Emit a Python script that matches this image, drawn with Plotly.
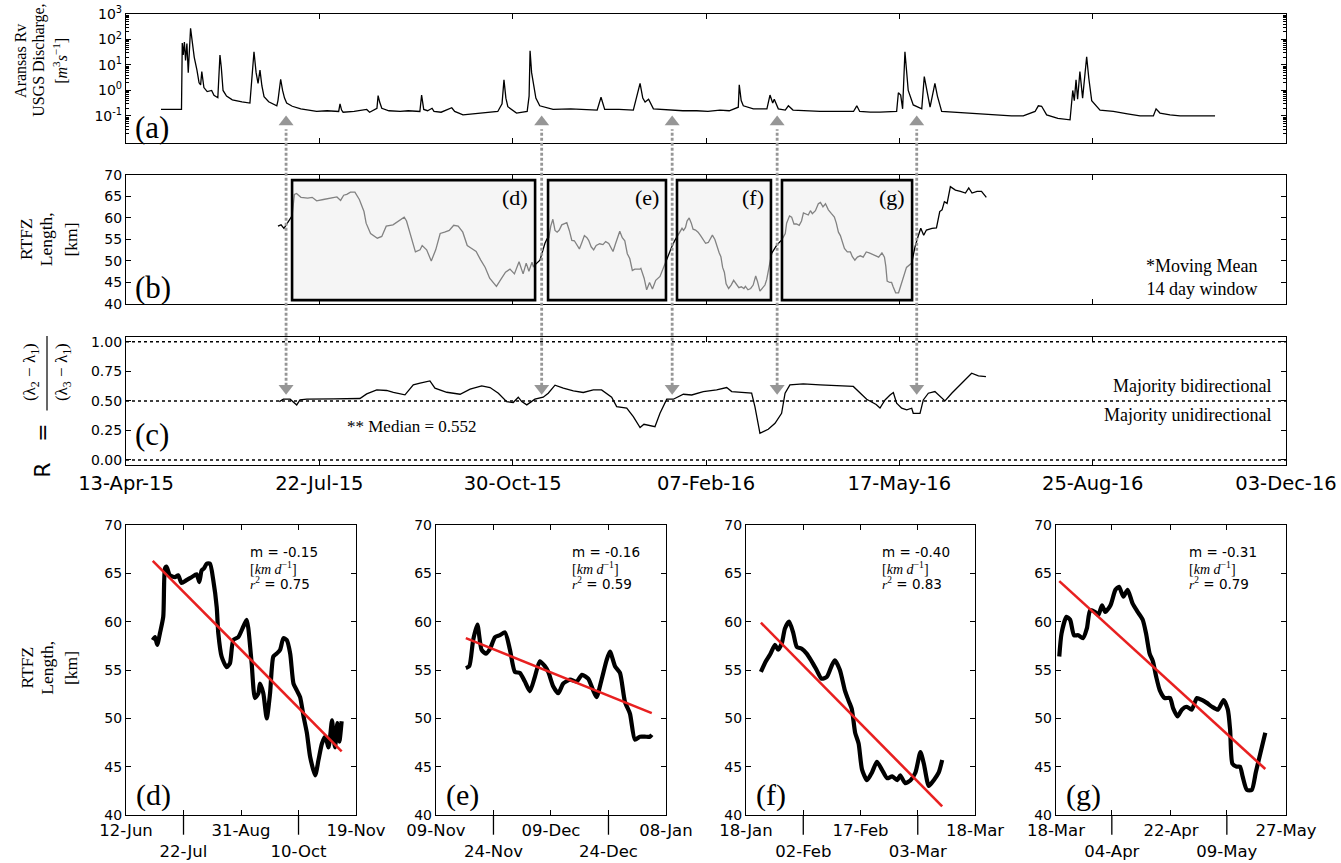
import pandas as pd
import plotly.graph_objects as go

START = pd.Timestamp("2015-04-13")

# ---------------- data ----------------
# (a) USGS discharge, day offset from 13-Apr-15 and m3/s
q_day = [18.1, 22, 25, 28.7, 29.1, 29.6, 30.2, 30.8, 31.5, 32.2, 33.4, 34.2, 35.3, 36.7, 37.8, 38.6,
         39.2, 40.3, 42.0, 44.3, 45.5, 47.5, 48.6, 49.3, 50.2, 52, 55, 60, 64.1, 66.2, 67.3, 68.3,
         69.3, 70.3, 71.4, 73.8, 78.0, 78.6, 79.2, 80.0, 81.0, 82.0, 83.1, 86, 90.4, 95, 98.6, 104,
         110.0, 110.7, 111.5, 112.3, 118, 124.5, 126, 129.8, 130.4, 131.2, 132.3, 136, 141.8, 146,
         152.0, 152.9, 154.0, 156, 158.3, 159.3, 163, 168.5, 170, 174.3, 180, 186.5, 192.3, 194.5,
         195.5, 196.5, 197.5, 202, 207.5, 208.5, 209.0, 209.8, 210.7, 212, 214, 220.9, 230, 238.6,
         243.7, 245.7, 247.6, 255, 262.4, 265.9, 267.3, 268.5, 270.3, 272.8, 281.5, 288, 295.2, 301,
         307.2, 312, 316.7, 317.2, 318.2, 319.3, 324.5, 331.5, 333.1, 334.5, 335.3, 337.4, 341, 342.6,
         345, 352, 359, 368, 376.3, 378.0, 379.5, 385, 390, 398.6, 399.5, 400.7, 401.7, 402.9, 403.7,
         404.6, 407.2, 411.6, 412.9, 414.2, 415.9, 418.4, 419.7, 421.9, 428, 433.1, 442, 450.4, 458,
         464.1, 470.2, 471.9, 473.6, 476.2, 482, 488.3, 489.7, 490.5, 491.4, 492.2, 493.4, 494.8,
         496.9, 498.0, 499.5, 503.8, 510.7, 518, 524.5, 531.4, 532.8, 534.8, 540, 545.2, 555, 563.3]
q_val = [0.18, 0.175, 0.18, 0.18, 72, 25, 80, 15, 70, 5, 275, 90, 20, 6.3, 2.0, 1.65,
         5.5, 1.3, 0.9, 1.0, 0.65, 0.52, 24.5, 8, 1.0, 0.6, 0.43, 0.36, 0.32, 33, 5, 1.9,
         6.3, 1.5, 0.57, 0.36, 0.25, 0.4, 0.8, 2.75, 1.0, 0.5, 0.32, 0.24, 0.19, 0.17, 0.15, 0.16,
         0.15, 0.3, 0.17, 0.14, 0.15, 0.18, 0.14, 0.2, 0.63, 0.35, 0.2, 0.16, 0.15, 0.16,
         0.15, 0.66, 0.18, 0.16, 0.2, 0.15, 0.14, 0.21, 0.15, 0.11, 0.12, 0.13, 0.15, 0.3,
         2.6, 0.5, 0.23, 0.13, 0.15, 0.6, 36, 5, 1.9, 0.5, 0.25, 0.18, 0.19, 0.18,
         0.17, 0.54, 0.18, 0.18, 0.17, 1.9, 0.5, 0.35, 0.45, 0.19, 0.17, 0.16, 0.16, 0.15,
         0.17, 0.16, 0.22, 1.66, 0.4, 0.25, 0.19, 0.19, 0.66, 0.32, 0.45, 0.19, 0.17, 0.25,
         0.17, 0.16, 0.15, 0.15, 0.15, 0.25, 0.15, 0.14, 0.14, 0.15, 0.81, 0.66, 0.19, 33, 5,
         1.0, 0.27, 0.19, 3.5, 0.9, 0.22, 1.9, 0.6, 0.15, 0.14, 0.13, 0.12, 0.11, 0.1,
         0.1, 0.15, 0.25, 0.24, 0.11, 0.08, 0.07, 1.0, 0.4, 2.6, 0.45, 5.5, 0.5,
         21, 3, 0.4, 0.17, 0.15, 0.12, 0.1, 0.1, 0.19, 0.13, 0.11, 0.1, 0.1, 0.1]

# (b) RTFZ length, 14-day moving mean [km]
L_day = [78.6, 80.2, 81.7, 83.6, 85.9, 87.1, 88.2, 90.5, 94, 96.3, 98.6, 102.1, 105.6, 109.1, 111,
         112.6, 114.2, 116.1, 118.4, 120.7, 123.1, 124.2, 126.5, 130, 132.3, 134.6, 138.1, 141.6,
         143.9, 145.1, 147.4, 149.7, 152.1, 153.2, 155.5, 157.9, 160.2, 162.5, 164.8, 167.2, 169.5,
         171.8, 174.2, 176.5, 178.8, 181.1, 183.5, 185.8, 188.1, 191.6, 193.9, 196.3, 198.6, 200.9,
         203.3, 204.4, 205.4, 207, 208.4, 210, 210.7, 212.5, 214.1, 216.7,
         217.8, 218.7, 219.7, 220.8, 221.9, 223, 224.1, 225.4, 226.7, 228, 229.3, 230.6, 231.9,
         233.2, 234.5, 235.8, 237.1, 238.4, 239.3, 240.6, 241.9, 243.2, 245, 246.7, 248.1, 249.7,
         251, 251.9, 253.2, 254.5, 255.4, 256.7, 258, 259.3, 260.6, 261.9, 263.2, 264.5, 265.8, 266.3,
         268, 269.3, 270.8, 272.3, 274, 276.2, 278.8, 282.3,
         283.9, 285.2, 286.3, 287.6, 288.4, 289.4, 290.2, 291.3, 292.4, 293.3, 294.6, 295.9, 297.2,
         298.5, 299.8, 301.2, 302.5, 303.3, 304.6, 305.9, 306.8, 307.7, 308.6, 309.5, 310.4, 311.7,
         313, 314.3, 315.6, 317, 318.3, 319.6, 320.4, 321.7, 323.1, 324.4, 325.7, 326.6, 327.9,
         329.2, 330.5, 331.4, 332.7, 334, 336.6, 339.2,
         341.0, 341.7, 343.2, 344.3, 345.5, 346.8, 348.2, 349.4, 350.4, 351.9, 352.9, 354, 355,
         356.6, 358.1, 359.2, 360.5, 361.8, 363.3, 364.9, 366.4, 367.4, 368.5, 369.5, 370.5, 371.6,
         373.1, 374.7, 375.7, 377, 378.3, 379.8, 381.3, 382.9, 384.4, 385.9, 387.5, 389.3, 391,
         392.3, 393, 393.7, 395, 396, 396.8, 398.1, 399.6, 400.8, 402.2, 403.7,
         406.4, 408.1, 409.9, 411.1, 412.6, 414, 416.9, 419.2, 420.9, 422.1, 423.3, 424.7, 426.4,
         429, 431.6, 434.2, 435.9, 437.6, 440.2, 442.5, 445]
L_val = [58.1, 58.4, 57.6, 58.8, 60.5, 65.5, 65.7, 64.8, 64.6, 64.8, 64.0, 64.3, 64.6, 64.9, 64.1,
         65.3, 65.5, 66.0, 66.0, 64.3, 61.5, 58.8, 56.4, 55.3, 55.7, 58.1, 58.4, 59.5,
         60.2, 59.3, 55.7, 52.1, 52.6, 53.6, 52.6, 50.0, 52.6, 56.4, 56.7, 57.1, 58.3,
         58.1, 56.7, 53.6, 52.9, 52.2, 50.2, 48.5, 46.0, 44.1, 45.7, 47.4, 48.1, 47.0,
         49.8, 48.0, 47.0, 49.5, 47.6, 49.7, 48.7, 49.5, 50.2, 54.1,
         55.2, 55.4, 58.1, 59.7, 57.1, 56.7, 57.2, 58.4, 58.6, 58.9, 57.1, 54.8, 54.7,
         53.8, 52.8, 54.3, 55.9, 55.4, 54.8, 53.3, 52.6, 53.6, 54.0, 53.8, 54.5, 54.1,
         52.9, 52.2, 54.0, 56.0, 56.9, 55.4, 54.7, 51.7, 50.5, 47.8, 48.1, 48.1, 48.1, 48.3,
         46.0, 43.3, 45.0, 43.5, 45.5, 46.4, 49.5, 53.3,
         54.8, 55.9, 56.6, 57.6, 57.1, 57.8, 59.3, 60.0, 58.8, 57.4, 57.2, 56.7, 55.9,
         55.0, 54.1, 54.3, 55.5, 56.0, 55.0, 52.9, 51.9, 51.0, 48.5, 47.4, 44.7, 43.6,
         44.4, 45.5, 44.7, 43.8, 44.0, 43.6, 44.1, 43.3, 43.6, 44.4, 46.5, 45.3, 43.0,
         43.6, 44.4, 45.7, 48.5, 51.8, 53.7, 54.9,
         56.4, 58.8, 60.5, 60.2, 58.6, 58.6, 58.3, 59.3, 61.2, 61.0, 60.7, 61.7, 61.0,
         61.7, 63.3, 63.6, 62.6, 63.3, 61.9, 61.0, 60.2, 58.8, 56.7, 55.9, 54.3, 52.9,
         52.1, 52.1, 51.0, 50.2, 50.9, 51.2, 50.9, 52.1, 51.9, 51.6, 51.2, 50.9, 51.9,
         50.9, 48.8, 45.3, 45.0, 45.0, 44.0, 42.6, 42.6, 44.4, 46.4, 48.5,
         49.5, 53.3, 56.0, 57.6, 56.0, 57.2, 57.6, 57.7, 61.5, 61.9, 63.8, 63.4, 67.3,
         66.5, 66.2, 65.8, 67.0, 65.8, 66.2, 66.2, 64.8]

# (c) eigenvalue ratio R
R_day = [79.3, 81.4, 84.9, 86.5, 88.3, 90, 93.5, 107.2, 121, 124.5, 129.7, 134.8, 138.3, 144.3,
         148.6, 152.1, 157.2, 159.8, 165.9, 172.8, 178, 184, 188.3, 192.6, 196.9, 200.3, 202.9,
         204.7, 207.3, 211.5, 215.8, 218.4, 221.9, 226.2, 231.4, 236.5, 241.7, 246, 251.2, 253.8,
         259, 262.4, 265.9, 267.9, 273.6, 276.2, 279.7, 283.1, 288.3, 292.6, 298.6, 305.5, 310.7,
         313.3, 317.6, 323.6, 325.3, 327.9, 332.2, 335.7, 339.1, 340.9, 343.4, 350.3, 359, 367.6,
         376.2, 383.1, 388, 390, 392.6, 395.2, 396.9, 398.6, 401.2, 403.8, 406.4, 407.2, 410.7,
         412.4, 415, 418.4, 421.9, 423.6, 427.1, 432.2, 437.4, 440.9, 444.8]
R_val = [0.494, 0.514, 0.514, 0.494, 0.466, 0.508, 0.514, 0.517, 0.52, 0.559, 0.593, 0.588, 0.571,
         0.551, 0.636, 0.65, 0.669, 0.607, 0.573, 0.556, 0.599, 0.627, 0.613, 0.565, 0.494, 0.486,
         0.531, 0.494, 0.466, 0.514, 0.531, 0.565, 0.633, 0.607, 0.584, 0.571, 0.593, 0.593, 0.531,
         0.452, 0.438, 0.367, 0.274, 0.302, 0.282, 0.395, 0.514, 0.514, 0.556, 0.55, 0.579, 0.593,
         0.613, 0.579, 0.571, 0.565, 0.452, 0.226, 0.26, 0.31, 0.395, 0.565, 0.636, 0.644, 0.636,
         0.627, 0.622, 0.514, 0.47, 0.44, 0.508, 0.55, 0.571, 0.48, 0.438, 0.424, 0.438, 0.395,
         0.395, 0.508, 0.565, 0.579, 0.522, 0.5, 0.565, 0.65, 0.734, 0.712, 0.706]
R_median = 0.552
R_levels = [0.0, 0.5, 1.0]

top_tick_labels = ["13-Apr-15", "22-Jul-15", "30-Oct-15", "07-Feb-16", "17-May-16", "25-Aug-16", "03-Dec-16"]
q_tick_vals = [0.1, 1, 10, 100, 1000]
q_tick_text = ["10<sup>-1</sup>", "10<sup>0</sup>", "10<sup>1</sup>", "10<sup>2</sup>", "10<sup>3</sup>"]

box_names = ["(d)", "(e)", "(f)", "(g)"]
box_start_day = [85.9, 218.3, 285.0, 339.3]
box_end_day = [211.6, 279.3, 333.6, 406.6]
arrow_day = [82.8, 215.0, 282.5, 336.8, 409.0]

sub_windows = [(78.0, 210.5), (217.5, 266.5), (283.5, 331.5), (340.5, 404.0)]
sub_tick_labels = [["12-Jun-15", "22-Jul-15", "31-Aug-15", "10-Oct-15", "19-Nov-15"],
                   ["09-Nov-15", "24-Nov-15", "09-Dec-15", "24-Dec-15", "08-Jan-16"],
                   ["18-Jan-16", "02-Feb-16", "17-Feb-16", "03-Mar-16", "18-Mar-16"],
                   ["18-Mar-16", "04-Apr-16", "22-Apr-16", "09-May-16", "27-May-16"]]
fit_slope = [-0.15, -0.16, -0.40, -0.31]
fit_start_val = [66.3, 58.3, 59.9, 64.2]
fit_r2 = [0.75, 0.59, 0.83, 0.79]

# ---------------- helpers ----------------
SERIF = "Liberation Serif"
SANS = "DejaVu Sans"


def to_dates(days):
    return [START + pd.Timedelta(days=float(d)) for d in days]


def parse(lbl):
    return pd.to_datetime(lbl, format="%d-%b-%y")


fig = go.Figure()

fig.add_trace(go.Scatter(x=to_dates(q_day), y=q_val, mode="lines",
                         line=dict(color="black", width=1.3), xaxis="x", yaxis="y"))
fig.add_trace(go.Scatter(x=to_dates(L_day), y=L_val, mode="lines",
                         line=dict(color="black", width=1.3), xaxis="x2", yaxis="y2"))
fig.add_trace(go.Scatter(x=to_dates(R_day), y=R_val, mode="lines",
                         line=dict(color="black", width=1.3), xaxis="x3", yaxis="y3"))

ARROW_GRAY = "rgb(150,150,150)"
fig.add_trace(go.Scatter(x=to_dates(arrow_day), y=[0.058] * len(arrow_day), mode="markers",
                         marker=dict(symbol="triangle-up", size=13, color=ARROW_GRAY),
                         xaxis="x", yaxis="y", cliponaxis=False))
fig.add_trace(go.Scatter(x=to_dates(arrow_day), y=[0.606] * len(arrow_day), mode="markers",
                         marker=dict(symbol="triangle-down", size=13, color=ARROW_GRAY),
                         xaxis="x3", yaxis="y3", cliponaxis=False))

for i, (w0, w1) in enumerate(sub_windows):
    n = i + 4
    sel = [(d, v) for d, v in zip(L_day, L_val) if w0 <= d <= w1]
    dd = [d for d, _ in sel]
    vv = [v for _, v in sel]
    fig.add_trace(go.Scatter(x=to_dates(dd), y=vv, mode="lines",
                             line=dict(color="black", width=4.2, shape="spline", smoothing=0.6),
                             xaxis=f"x{n}", yaxis=f"y{n}"))
    fx = [dd[0], dd[-1]]
    fy = [fit_start_val[i], fit_start_val[i] + fit_slope[i] * (dd[-1] - dd[0])]
    fig.add_trace(go.Scatter(x=to_dates(fx), y=fy, mode="lines",
                             line=dict(color="rgb(232,32,32)", width=2.6), xaxis=f"x{n}", yaxis=f"y{n}"))

# ---------------- axes ----------------
axis_common = dict(showline=True, mirror="ticks", linecolor="black", linewidth=1.3,
                   ticks="inside", ticklen=5, tickwidth=1.1, tickcolor="black", automargin=False,
                   showgrid=False, zeroline=False, tickfont=dict(family=SANS, size=14, color="black"))

top_vals = [parse(s) for s in top_tick_labels]
top_range = [top_vals[0], top_vals[-1]]

minor_q = [m * 10.0 ** k for k in range(-2, 3) for m in range(2, 10)]

layout = dict(
    width=1341, height=863, margin=dict(l=126, r=55, t=14, b=48),
    plot_bgcolor="white", paper_bgcolor="white", showlegend=False,
    font=dict(family=SANS, size=14, color="black"),
    xaxis=dict(axis_common, domain=[0, 1], anchor="y", type="date", range=top_range,
               tickmode="array", tickvals=top_vals, showticklabels=False),
    xaxis2=dict(axis_common, domain=[0, 1], anchor="y2", type="date", range=top_range,
                tickmode="array", tickvals=top_vals, showticklabels=False),
    xaxis3=dict(axis_common, domain=[0, 1], anchor="y3", type="date", range=top_range,
                tickmode="array", tickvals=top_vals, ticktext=top_tick_labels, tickangle=0,
                tickfont=dict(family=SANS, size=19.5, color="black")),
    yaxis=dict(axis_common, domain=[0.839, 1.0], anchor="x", type="log", range=[-2.06, 3.0],
               tickmode="array", tickvals=q_tick_vals, ticktext=q_tick_text,
               minor=dict(ticks="inside", ticklen=2.5, tickcolor="black", tickmode="array",
                          tickvals=minor_q)),
    yaxis2=dict(axis_common, domain=[0.638, 0.799], anchor="x2", range=[40, 70],
                tickmode="array", tickvals=[40, 45, 50, 55, 60, 65, 70]),
    yaxis3=dict(axis_common, domain=[0.437, 0.597], anchor="x3", range=[-0.042, 1.042],
                tickmode="array", tickvals=[0, 0.25, 0.5, 0.75, 1.0],
                ticktext=["0.00", "0.25", "0.50", "0.75", "1.00"]),
)

sub_domains = [[0.0, 0.1983], [0.2672, 0.4655], [0.5345, 0.7319], [0.8017, 1.0]]
shapes = []
for i, labels in enumerate(sub_tick_labels):
    n = i + 4
    tv = [parse(s) for s in labels]
    tt = [s[:6] if j % 2 == 0 else "<br>" + s[:6] for j, s in enumerate(labels)]
    layout[f"xaxis{n}"] = dict(axis_common, domain=sub_domains[i], anchor=f"y{n}", type="date",
                               range=[tv[0], tv[-1]], tickmode="array", tickvals=tv, ticktext=tt,
                               tickangle=0, tickfont=dict(family=SANS, size=16.5, color="black"))
    layout[f"yaxis{n}"] = dict(axis_common, domain=[0.0, 0.362], anchor=f"x{n}", range=[40, 70],
                               tickmode="array", tickvals=[40, 45, 50, 55, 60, 65, 70])
    for j in (1, 3):
        shapes.append(dict(type="line", xref=f"x{n}", yref=f"y{n} domain", x0=tv[j], x1=tv[j],
                           y0=-0.068, y1=0.0, line=dict(color="black", width=1.3)))

fig.update_layout(**layout)

# ---------------- shapes ----------------
for lv in R_levels:
    shapes.append(dict(type="line", xref="x3 domain", yref="y3", x0=0, x1=1, y0=lv, y1=lv,
                       line=dict(color="black", width=1.5, dash="dot")))
for b0, b1 in zip(box_start_day, box_end_day):
    shapes.append(dict(type="rect", xref="x2", yref="y2", x0=START + pd.Timedelta(days=b0),
                       x1=START + pd.Timedelta(days=b1), y0=40.9, y1=68.8, layer="above",
                       line=dict(color="black", width=2.6), fillcolor="rgba(236,236,236,0.55)"))
for d in arrow_day:
    t = START + pd.Timedelta(days=d)
    shapes.append(dict(type="line", xref="x", yref="paper", x0=t, x1=t, y0=0.536, y1=0.856,
                       layer="above", line=dict(color=ARROW_GRAY, width=2.8, dash="3px,2px")))
# fraction bar of R label
shapes.append(dict(type="line", xref="paper", yref="paper", x0=-0.0681, x1=-0.0681, y0=0.505, y1=0.598,
                   line=dict(color="black", width=1.2)))
fig.update_layout(shapes=shapes)

# ---------------- annotations ----------------
ann = []


def A(**kw):
    base = dict(showarrow=False)
    base.update(kw)
    ann.append(base)


# y titles
for txt, xp in [("Aransas Rv", -0.0905), ("USGS Discharge,", -0.075),
                ("[<i>m</i><sup>3</sup><i>s</i><sup>−1</sup>]", -0.0569)]:
    A(text=txt, xref="paper", yref="paper", x=xp, y=0.9415, xanchor="center", yanchor="middle",
      textangle=-90, font=dict(family=SERIF, size=16))
for txt, xp in [("RTFZ", -0.0857), ("Length,", -0.0683), ("[km]", -0.0474)]:
    A(text=txt, xref="paper", yref="paper", x=xp, y=0.7185, xanchor="center", yanchor="middle",
      textangle=-90, font=dict(family=SERIF, size=17.5))
    A(text=txt, xref="paper", yref="paper", x=xp, y=0.1835, xanchor="center", yanchor="middle",
      textangle=-90, font=dict(family=SERIF, size=17.5))
A(text="R", xref="paper", yref="paper", x=-0.0716, y=0.431, xanchor="center", yanchor="middle",
  textangle=-90, font=dict(family=SANS, size=22))
A(text="=", xref="paper", yref="paper", x=-0.0716, y=0.477, xanchor="center", yanchor="middle",
  textangle=-90, font=dict(family=SANS, size=22))
A(text="(λ<sub>2</sub> − λ<sub>1</sub>)", xref="paper", yref="paper", x=-0.0819, y=0.553,
  xanchor="center", yanchor="middle", textangle=-90, font=dict(family=SERIF, size=17))
A(text="(λ<sub>3</sub> − λ<sub>1</sub>)", xref="paper", yref="paper", x=-0.0543, y=0.553,
  xanchor="center", yanchor="middle", textangle=-90, font=dict(family=SERIF, size=17))

# panel labels
A(text="(a)", xref="x domain", yref="y domain", x=0.006, y=0.12, xanchor="left", yanchor="middle",
  font=dict(family=SERIF, size=31))
A(text="(b)", xref="x2 domain", yref="y2 domain", x=0.006, y=0.13, xanchor="left", yanchor="middle",
  font=dict(family=SERIF, size=31))
A(text="(c)", xref="x3 domain", yref="y3 domain", x=0.006, y=0.24, xanchor="left", yanchor="middle",
  font=dict(family=SERIF, size=31))
for nm, b1 in zip(box_names, box_end_day):
    A(text=nm, xref="x2", yref="y2", x=START + pd.Timedelta(days=b1), y=68.8, xanchor="right",
      yanchor="top", xshift=-5, yshift=-3, font=dict(family=SERIF, size=22))

A(text="*Moving Mean<br>14 day window", xref="x2 domain", yref="y2 domain", x=0.978, y=0.02,
  xanchor="right", yanchor="bottom", align="right", font=dict(family=SERIF, size=18))
A(text="Majority bidirectional", xref="x3 domain", yref="y3", x=0.989, y=0.5, xanchor="right",
  yanchor="bottom", yshift=3, font=dict(family=SERIF, size=18))
A(text="Majority unidirectional", xref="x3 domain", yref="y3", x=0.989, y=0.5, xanchor="right",
  yanchor="top", yshift=-2, font=dict(family=SERIF, size=18))
A(text=f"** Median = {R_median:.3f}", xref="x3 domain", yref="y3", x=0.189, y=0.28,
  xanchor="left", yanchor="middle", font=dict(family=SERIF, size=17))

stat_x = [0.532, 0.583, 0.585, 0.571]
for i in range(4):
    n = i + 4
    A(text=f"(" + "defg"[i] + ")", xref=f"x{n} domain", yref=f"y{n} domain", x=0.035, y=0.069,
      xanchor="left", yanchor="middle", font=dict(family=SERIF, size=30))
    A(text=f"m = {fit_slope[i]:.2f}", xref=f"x{n} domain", yref=f"y{n} domain", x=stat_x[i],
      y=0.907, xanchor="left", yanchor="middle", font=dict(family=SANS, size=13.5))
    A(text="[<i>km d</i><sup>−1</sup>]", xref=f"x{n} domain", yref=f"y{n} domain", x=stat_x[i],
      y=0.852, xanchor="left", yanchor="middle", font=dict(family=SERIF, size=14))
    A(text=f"<span style='font-family:{SERIF}'><i>r</i><sup>2</sup></span> = {fit_r2[i]:.2f}",
      xref=f"x{n} domain", yref=f"y{n} domain", x=stat_x[i], y=0.80, xanchor="left",
      yanchor="middle", font=dict(family=SANS, size=13.5))

fig.update_layout(annotations=ann)
fig.write_html("out.html")
